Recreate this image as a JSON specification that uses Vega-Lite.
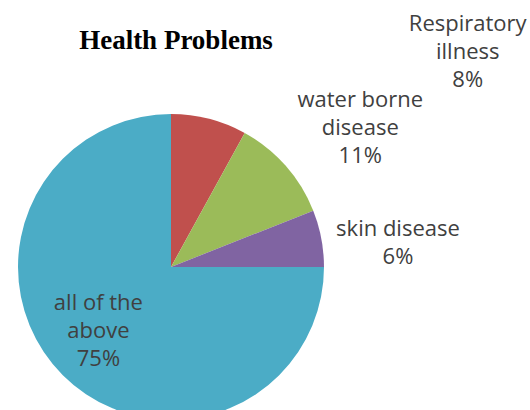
{
  "$schema": "https://vega.github.io/schema/vega-lite/v6.json",
  "width": 342,
  "height": 286,
  "autosize": {"type": "none"},
  "padding": {"left": 0, "top": 124, "right": 188, "bottom": 0},
  "background": "white",
  "title": {
    "text": "Health Problems",
    "font": "Liberation Serif",
    "fontSize": 27,
    "fontWeight": "bold",
    "color": "#000000",
    "anchor": "middle",
    "frame": "group",
    "offset": -42,
    "dx": 5
  },
  "data": {
    "values": [
      {"problem": "Respiratory illness", "label": "Respiratory\nillness\n8%", "share": 8, "slice": 1},
      {"problem": "water borne disease", "label": "water borne\ndisease\n11%", "share": 11, "slice": 2},
      {"problem": "skin disease", "label": "skin disease\n6%", "share": 6, "slice": 3},
      {"problem": "all of the above", "label": "all of the\nabove\n75%", "share": 75, "slice": 4}
    ]
  },
  "encoding": {
    "theta": {"field": "share", "type": "quantitative", "stack": true},
    "order": {"field": "slice", "type": "ordinal"}
  },
  "layer": [
    {
      "mark": {"type": "arc", "outerRadius": 153},
      "encoding": {
        "color": {
          "field": "problem",
          "type": "nominal",
          "scale": {
            "domain": ["Respiratory illness", "water borne disease", "skin disease", "all of the above"],
            "range": ["#C0504D", "#9BBB59", "#8064A2", "#4BACC6"]
          },
          "legend": null
        }
      }
    },
    {
      "mark": {"type": "text", "radius": 220, "dx": 242, "dy": -30, "font": "Open Sans", "fontSize": 22, "lineHeight": 28, "lineBreak": "\n", "color": "#404040", "align": "center", "baseline": "middle"},
      "encoding": {
        "text": {"condition": {"test": "datum.problem === 'Respiratory illness'", "field": "label", "type": "nominal"}, "value": ""}
      }
    },
    {
      "mark": {"type": "text", "radius": 235, "dx": 13, "dy": -12, "font": "Open Sans", "fontSize": 22, "lineHeight": 28, "lineBreak": "\n", "color": "#404040", "align": "center", "baseline": "middle"},
      "encoding": {
        "text": {"condition": {"test": "datum.problem === 'water borne disease'", "field": "label", "type": "nominal"}, "value": ""}
      }
    },
    {
      "mark": {"type": "text", "radius": 228, "dx": 3, "dy": 5, "font": "Open Sans", "fontSize": 22, "lineHeight": 28, "lineBreak": "\n", "color": "#404040", "align": "center", "baseline": "middle"},
      "encoding": {
        "text": {"condition": {"test": "datum.problem === 'skin disease'", "field": "label", "type": "nominal"}, "value": ""}
      }
    },
    {
      "mark": {"type": "text", "radius": 97, "dx": -4, "dy": -33, "font": "Open Sans", "fontSize": 22, "lineHeight": 28, "lineBreak": "\n", "color": "#404040", "align": "center", "baseline": "middle"},
      "encoding": {
        "text": {"condition": {"test": "datum.problem === 'all of the above'", "field": "label", "type": "nominal"}, "value": ""}
      }
    }
  ],
  "config": {"view": {"stroke": null}}
}
